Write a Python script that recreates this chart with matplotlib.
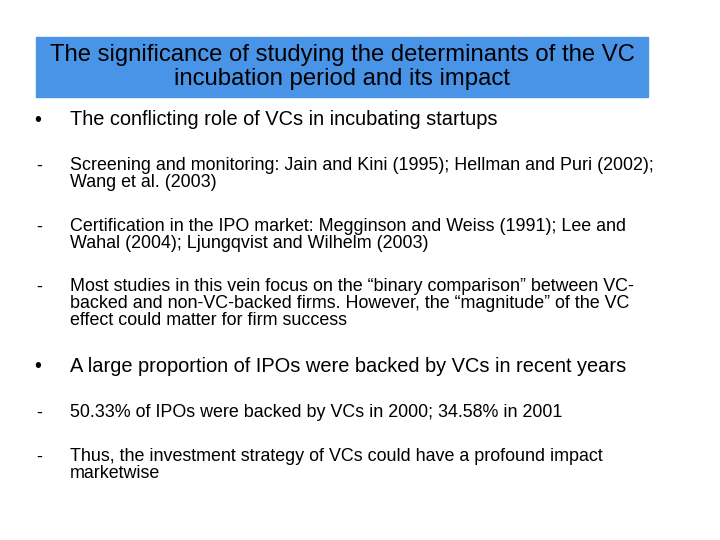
import matplotlib
matplotlib.use("Agg")
import matplotlib.pyplot as plt
from matplotlib.patches import Rectangle

title_lines = ["The significance of studying the determinants of the VC", "incubation period and its impact"]
items = [
    ("•", "The conflicting role of VCs in incubating startups", 120, 14.4),
    ("-", "Screening and monitoring: Jain and Kini (1995); Hellman and Puri (2002);\nWang et al. (2003)", 166, 12.9),
    ("-", "Certification in the IPO market: Megginson and Weiss (1991); Lee and\nWahal (2004); Ljungqvist and Wilhelm (2003)", 227, 12.9),
    ("-", "Most studies in this vein focus on the “binary comparison” between VC-\nbacked and non-VC-backed firms. However, the “magnitude” of the VC\neffect could matter for firm success", 287, 12.9),
    ("•", "A large proportion of IPOs were backed by VCs in recent years", 367, 14.4),
    ("-", "50.33% of IPOs were backed by VCs in 2000; 34.58% in 2001", 413, 12.9),
    ("-", "Thus, the investment strategy of VCs could have a profound impact\nmarketwise", 457, 12.9),
]

plt.rcParams['font.family'] = ['Liberation Sans', 'DejaVu Sans']
W, H = 720, 540
fig = plt.figure(figsize=(7.2, 5.4), dpi=100)
ax = fig.add_axes([0, 0, 1, 1])
ax.set_xlim(0, W); ax.set_ylim(H, 0); ax.axis('off')

ax.add_patch(Rectangle((36, 37), 612, 60, color='#4a94e8'))
ax.text(342, 67, "\n".join(title_lines), ha='center', va='center', fontsize=17.2,
        color='black', linespacing=1.12)

for mark, txt, y, fs in items:
    ax.text(34 if mark == "•" else 36, y, mark, ha='left', va='center', fontsize=fs)
    ax.text(70, y - (fs * 0.72), txt, ha='left', va='top', fontsize=fs, linespacing=1.0)

fig.savefig("out.png", dpi=100)
